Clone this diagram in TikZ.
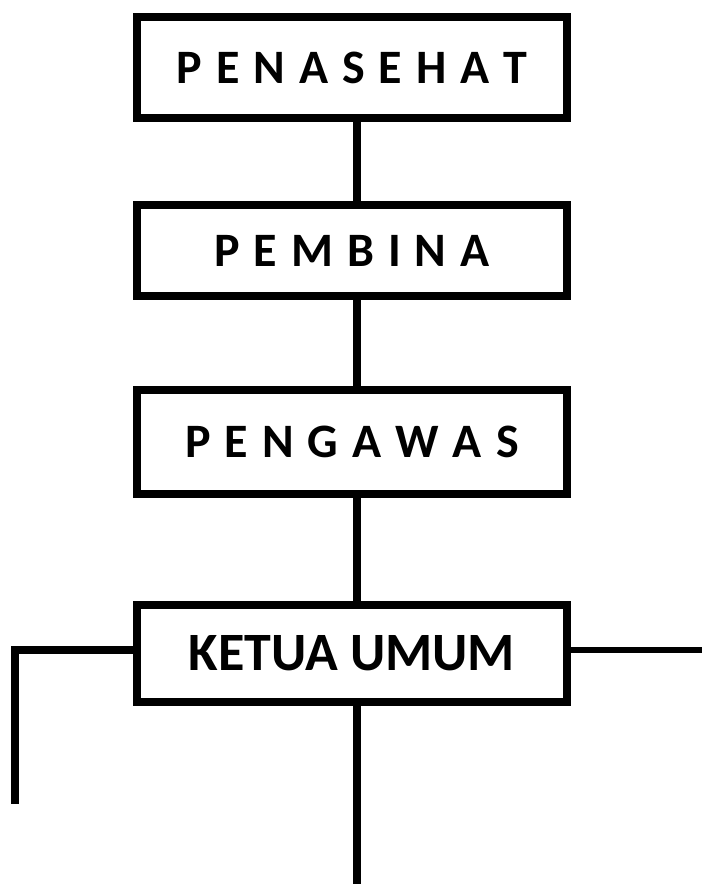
\documentclass[tikz,border=0pt]{standalone}
\usepackage{fontspec}
\setmainfont{Carlito}
\usepackage{tikz}
\usetikzlibrary{positioning}

\begin{document}
\begin{tikzpicture}[
      x=1pt, y=-1pt,
      box_node/.style={
         rectangle,
         draw=black,
         line width=8pt,
         outer sep=0pt,
         inner sep=0pt,
         minimum width=430pt,
         font={\bfseries\fontsize{48}{48}\selectfont\spaceskip=14pt}},
      line_black/.style={
        line width=8pt,
        draw=black,
        },
      line_thin/.style={
        line width=6pt,
        draw=black,
        }
]
      \useasboundingbox (0,0) rectangle (702,884);

      %boxes
      \node[box_node,minimum height=101pt] (penasehat) at (352,67.5) {P E N A S E H A T};
      \node[box_node,minimum height=91pt,below=87pt of penasehat] (pembina) {P E M B I N A};
      \node[box_node,minimum height=104pt,below=94pt of pembina] (pengawas) {P E N G A W A S};
      \node[box_node,minimum height=97pt,below=111pt of pengawas,
            font={\bfseries\fontsize{54}{54}\selectfont}] (ketua) {KETUA UMUM};

      %loose ends
      \coordinate (left_top) at (15,650);
      \coordinate (left_end) at (15,804);
      \coordinate (right_end) at (702,650);
      \coordinate (bottom_end) at (357,884);

      \foreach \i/\j in {% upper box/lower box
        penasehat/pembina,
        pengawas/ketua,
        pembina/pengawas}
      \draw [line_black] ([xshift=5pt]\i.south) -- ([xshift=5pt]\j.north);

      \draw [line_black] (left_top -| ketua.west) -- (left_top) -- (left_end);
      \draw [line_thin] (right_end -| ketua.east) -- (right_end);
      \draw [line_black] ([xshift=5pt]ketua.south) -- (bottom_end);

\end{tikzpicture}
\end{document}
